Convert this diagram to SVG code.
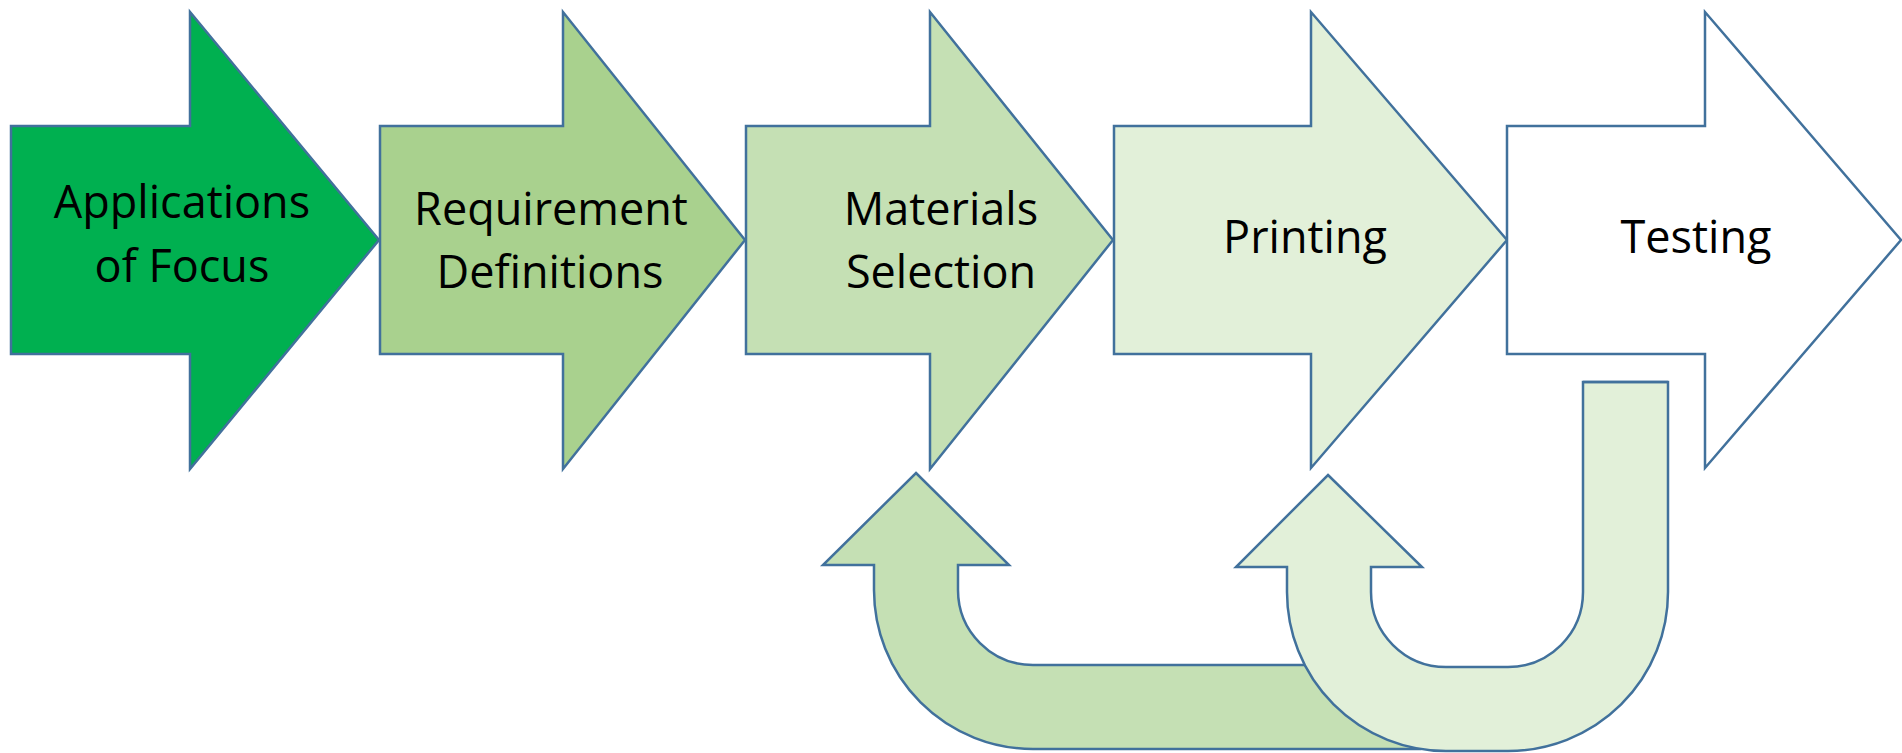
<svg xmlns="http://www.w3.org/2000/svg" width="1902" height="753" viewBox="0 0 1902 753">
<style>
.shape{stroke:#41719c;stroke-width:2.5;stroke-linejoin:miter}
.lbl{font-family:"Open Sans","Noto Sans",sans-serif;font-size:45px;fill:#000;text-anchor:middle}
</style>
<rect width="1902" height="753" fill="#fff"/>
<g id="node-applications">
<path class="shape" fill="#00b050" d="M11,126 L190,126 L190,12 L379,240 L190,469 L190,354 L11,354 Z"/>
<text class="lbl" x="182" y="218">Applications</text>
<text class="lbl" x="182" y="282">of Focus</text>
</g>
<g id="node-requirements">
<path class="shape" fill="#a9d18e" d="M380,126 L563,126 L563,12 L745,240 L563,469 L563,354 L380,354 Z"/>
<text class="lbl" x="551" y="225">Requirement</text>
<text class="lbl" x="550" y="288">Definitions</text>
</g>
<g id="node-materials">
<path class="shape" fill="#c5e0b4" d="M746,126 L930,126 L930,12 L1113,240 L930,469 L930,354 L746,354 Z"/>
<text class="lbl" x="941" y="225">Materials</text>
<text class="lbl" x="941" y="288">Selection</text>
</g>
<g id="node-printing">
<path class="shape" fill="#e2f0d9" d="M1114,126 L1311,126 L1311,12 L1507,240 L1311,468 L1311,354 L1114,354 Z"/>
<text class="lbl" x="1305" y="253">Printing</text>
</g>
<g id="node-testing">
<path class="shape" fill="#ffffff" d="M1507,126 L1705,126 L1705,12 L1901,240 L1705,468 L1705,354 L1507,354 Z"/>
<text class="lbl" x="1696" y="253">Testing</text>
</g>
<g id="connectors">
<path id="loop-materials" class="shape" fill="#c5e0b4" d="M916,473 L1009,565 L958,565 L958,590 A75,75 0 0 0 1033,665 L1420,665 L1420,749 L1033,749 A159,159 0 0 1 874,590 L874,565 L823,565 Z"/>
<path id="loop-printing" class="shape" fill="#e2f0d9" d="M1328,475 L1422,567 L1371,567 L1371,592 A75,75 0 0 0 1446,667 L1508,667 A75,75 0 0 0 1583,592 L1583,382 L1668,382 L1668,592 A160,159 0 0 1 1508,751 L1446,751 A159,159 0 0 1 1287,592 L1287,567 L1236,567 Z"/>
<line class="shape" x1="1583" y1="382" x2="1668" y2="382" stroke-width="4"/>
</g>
</svg>
